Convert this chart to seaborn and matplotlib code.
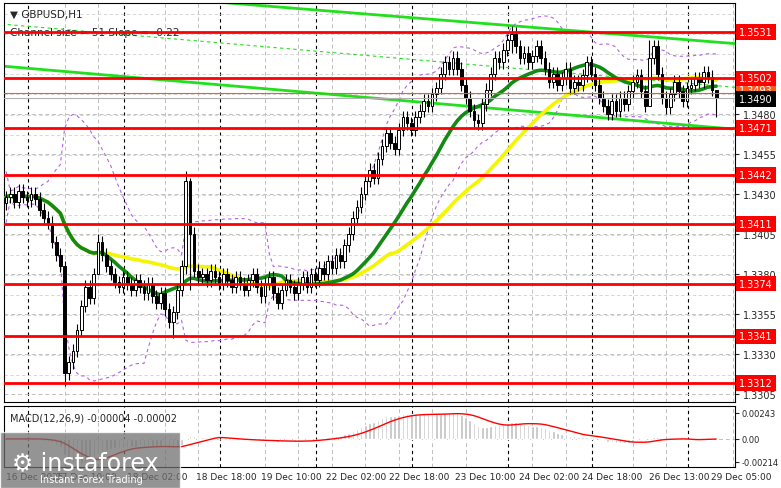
import numpy as np
import pandas as pd
import matplotlib.pyplot as plt
import seaborn as sns
from matplotlib.patches import Rectangle

# hourly closes (GBPUSD H1)
closes = [1.3428, 1.3430, 1.3425, 1.3432, 1.3428, 1.3426, 1.3430, 1.3427, 1.3420, 1.3415, 1.3412,
          1.3400, 1.3392, 1.3385, 1.3318,
          1.3325, 1.3332, 1.3345, 1.3360, 1.3372, 1.3365, 1.3380, 1.3400,
          1.3392, 1.3385, 1.3380, 1.3375, 1.3372, 1.3378, 1.3374, 1.3370, 1.3376, 1.3372, 1.3368, 1.3374,
          1.3366, 1.3362, 1.3368, 1.3358, 1.3350, 1.3356,
          1.3370, 1.3385, 1.3438, 1.3405,
          1.3382, 1.3378, 1.3380, 1.3376, 1.3382, 1.3378, 1.3374, 1.3380, 1.3376, 1.3372, 1.3378, 1.3374,
          1.3370, 1.3376, 1.3380, 1.3372, 1.3366, 1.3374, 1.3378, 1.3368, 1.3362, 1.3370, 1.3376, 1.3372,
          1.3368, 1.3374,
          1.3378, 1.3372, 1.3380, 1.3376, 1.3384, 1.3380, 1.3388, 1.3384, 1.3392, 1.3388, 1.3398, 1.3405, 1.3415,
          1.3422, 1.3430, 1.3438, 1.3445, 1.3440, 1.3452, 1.3460, 1.3468, 1.3462, 1.3458, 1.3470, 1.3478,
          1.3474, 1.3470, 1.3478, 1.3482, 1.3488, 1.3485, 1.3492, 1.3496, 1.3505, 1.3512, 1.3508,
          1.3515, 1.3508, 1.3498, 1.3490, 1.3482, 1.3476, 1.3474, 1.3486, 1.3495,
          1.3505, 1.3515, 1.3512, 1.3520, 1.3526, 1.3530, 1.3522, 1.3515, 1.3518, 1.3512,
          1.3516, 1.3522, 1.3515, 1.3508, 1.3500, 1.3505, 1.3498, 1.3502, 1.3508, 1.3496, 1.3500, 1.3498, 1.3504,
          1.3512, 1.3505, 1.3498, 1.3490, 1.3485, 1.3480, 1.3488, 1.3482, 1.3490, 1.3486, 1.3494, 1.3500,
          1.3504, 1.3494, 1.3485, 1.3515, 1.3522, 1.3505, 1.3490, 1.3484,
          1.3492, 1.3500, 1.3494, 1.3488, 1.3496, 1.3498, 1.3502, 1.3500, 1.3506, 1.3503, 1.3495, 1.3490]
first_open = 1.3424
default_wick = 0.0004
# notable wicks: bar -> (high, low)
wick_spikes = {14: (1.3388, 1.3310), 22: (1.3405, 1.3380), 40: (1.3360, 1.3340),
               43: (1.3444, 1.3380), 44: (1.3440, 1.3370), 121: (1.3535, 1.3518),
               154: (1.3526, 1.3500), 170: (1.3494, 1.3478)}

levels = [1.3531, 1.3502, 1.3471, 1.3442, 1.3411, 1.3374, 1.3341, 1.3312]
bid_price = 1.3490
ask_price = 1.3493
price_ticks = [1.3480, 1.3455, 1.3430, 1.3405, 1.3380, 1.3355, 1.3330, 1.3305]

# channel trendlines (bar index, price)
chan_upper = [(47.6, 1.35503), (184.8, 1.35216)]
chan_lower = [(-1.2, 1.35098), (173.8, 1.34705)]
chan_mid = [(-1.2, 1.35360), (184.8, 1.34942)]

time_labels = ['16 Dec 2025', '17 Dec 10:00', '18 Dec 02:00', '18 Dec 18:00', '19 Dec 10:00',
               '22 Dec 02:00', '22 Dec 18:00', '23 Dec 10:00', '24 Dec 02:00', '24 Dec 18:00',
               '26 Dec 13:00', '29 Dec 05:00']
time_pos = [0, 12, 29, 45.5, 61, 76.6, 91.6, 107.4, 122.7, 137.8, 153.8, 168.7]
day_lines = [5.3, 28.2, 51.2, 74.2, 97.1, 120.1, 140.2, 163.2]

# ---- build OHLC
c = np.array(closes)
o = np.concatenate([[first_open], c[:-1]])
h = np.maximum(o, c) + default_wick
l = np.minimum(o, c) - default_wick
for k, (hh, ll) in wick_spikes.items():
    h[k], l[k] = hh, ll
idx = np.arange(len(c))
df = pd.DataFrame({'i': idx, 'open': o, 'close': c, 'high': h, 'low': l})
df['ma_fast'] = df['close'].rolling(24, min_periods=1).mean()
df['ma_slow'] = df['close'].rolling(50, min_periods=1).mean()
mid = df['close'].rolling(20, min_periods=1).mean()
sd = df['close'].rolling(20, min_periods=2).std().fillna(0.0008)
df['bb_up'] = mid + 2 * sd
df['bb_dn'] = mid - 2 * sd
ema12 = df['close'].ewm(span=12, adjust=False).mean()
ema26 = df['close'].ewm(span=26, adjust=False).mean()
df['macd'] = ema12 - ema26
df['signal'] = df['macd'].rolling(9, min_periods=1).mean()

sns.set_style("white")
plt.rcParams['font.family'] = ['DejaVu Sans']
W, H = 781, 489
fig = plt.figure(figsize=(W / 100, H / 100), dpi=100)
ax = fig.add_axes([4 / W, 1 - 403 / H, 731 / W, 399 / H])
axm = fig.add_axes([4 / W, 1 - 468 / H, 731 / W, 61 / H])
xlim = (-0.5, 174.5)

for a in (ax, axm):
    a.set_xlim(*xlim)
    for s in a.spines.values():
        s.set_color('black')
        s.set_linewidth(0.8)
    a.set_xticks([])
    a.yaxis.tick_right()
    a.tick_params(axis='y', length=3, labelsize=7, pad=3)
    for x in day_lines:
        a.axvline(x, color='black', ls=(0, (3, 3)), lw=0.8, zorder=0)
    for x in np.arange(-2, 175, 8):
        if min(abs(x - d) for d in day_lines) > 3:
            a.axvline(x, color='#c0c0c0', ls=(0, (4, 3)), lw=0.7, zorder=0)

ax.set_ylim(1.33001, 1.35491)
ax.set_yticks(price_ticks)
ax.set_yticklabels([f'{p:.4f}' for p in price_ticks])
for p in price_ticks:
    ax.axhline(p, color='#c0c0c0', ls=(0, (4, 3)), lw=0.7, zorder=0)
for p in np.arange(1.3317, 1.3550, 0.00125):
    ax.axhline(p, color='#d0d0d0', ls=(0, (4, 3)), lw=0.6, zorder=0)

# channel
for seg, ls, lw in ((chan_upper, '-', 2), (chan_lower, '-', 2), (chan_mid, (0, (3, 3)), 0.8)):
    ax.plot([seg[0][0], seg[1][0]], [seg[0][1], seg[1][1]], color='#22e01e', ls=ls, lw=lw, zorder=2)

# bollinger, MAs
ax.plot(df['i'], df['bb_up'], color='#b462e6', ls=(0, (3, 3)), lw=0.8, zorder=2)
ax.plot(df['i'], df['bb_dn'], color='#b462e6', ls=(0, (3, 3)), lw=0.8, zorder=2)
sns.lineplot(data=df, x='i', y='ma_slow', ax=ax, color='#f5f500', lw=2.6, zorder=3)
sns.lineplot(data=df, x='i', y='ma_fast', ax=ax, color='#138a13', lw=2.6, zorder=3)

# candles
ax.vlines(df['i'], df['low'], df['high'], color='black', lw=0.8, zorder=4)
for _, r in df.iterrows():
    up = r['close'] >= r['open']
    b0 = min(r['open'], r['close'])
    bh = max(abs(r['close'] - r['open']), 0.00005)
    ax.add_patch(Rectangle((r['i'] - 0.32, b0), 0.64, bh, facecolor='white' if up else 'black',
                           edgecolor='black', lw=0.7, zorder=5))

# levels
for p in levels:
    ax.axhline(p, color='#ff0000', lw=2, zorder=6)
ax.axhline(ask_price, color='#ff5a1e', lw=0.8, zorder=6)
ax.axhline(bid_price, color='#b0b0b0', lw=0.8, zorder=6)
ax.set_xlabel('')
ax.set_ylabel('')
box_kw = dict(transform=ax.get_yaxis_transform(), color='white', fontsize=7, va='center', ha='left')
for p in levels:
    ax.text(1.006, p, f'{p:.4f}', bbox=dict(boxstyle='square,pad=0.3', fc='#ff0000', ec='none'),
            zorder=8, **box_kw)
ax.text(1.006, ask_price + 0.0002, f'{ask_price:.4f}',
        bbox=dict(boxstyle='square,pad=0.3', fc='#ff5a1e', ec='none'), **box_kw)
ax.text(1.006, bid_price - 0.0001, f'{bid_price:.4f}',
        bbox=dict(boxstyle='square,pad=0.3', fc='black', ec='none'), **box_kw)

ax.text(0.008, 0.985, '▼ GBPUSD,H1', transform=ax.transAxes, fontsize=7.5, va='top')
ax.text(0.008, 0.94, 'Channel size = 51 Slope = -0.22', transform=ax.transAxes, fontsize=7.5, va='top')

# MACD
axm.set_ylim(-0.00262, 0.00308)
axm.bar(df['i'], df['macd'], width=0.6, color='#c0c0c0', zorder=2)
axm.plot(df['i'], df['signal'], color='#ff0000', lw=1, zorder=3)
axm.set_yticks([0.00243, 0.0, -0.00214])
axm.set_yticklabels(['0.00243', '0.00', '-0.00214'])
axm.tick_params(axis='y', labelsize=6, pad=2)
axm.axhline(0, color='#c0c0c0', ls=(0, (4, 3)), lw=0.7, zorder=0)
axm.set_xlabel('')
axm.set_ylabel('')
axm.text(0.008, 0.9, 'MACD(12,26,9) -0.00004 -0.00002', transform=axm.transAxes, fontsize=7, va='top')

# time labels
for lab, pos in zip(time_labels, time_pos):
    xf = (4 + (pos - xlim[0]) / (xlim[1] - xlim[0]) * 731) / W
    fig.text(xf, 1 - 478 / H, lab, fontsize=6.5, va='center', ha='left')

# watermark
fig.patches.append(Rectangle((0, 0), 180 / W, 56 / H, transform=fig.transFigure,
                             facecolor='#707070', alpha=0.75, zorder=10))
fig.text(12 / W, 1 - 463 / H, '⚙ instaforex', fontsize=17, color='white', va='center', zorder=11)
fig.text(40 / W, 1 - 480 / H, 'Instant Forex Trading', fontsize=7, color='white', va='center', zorder=11)

fig.savefig('out.png', dpi=100)
